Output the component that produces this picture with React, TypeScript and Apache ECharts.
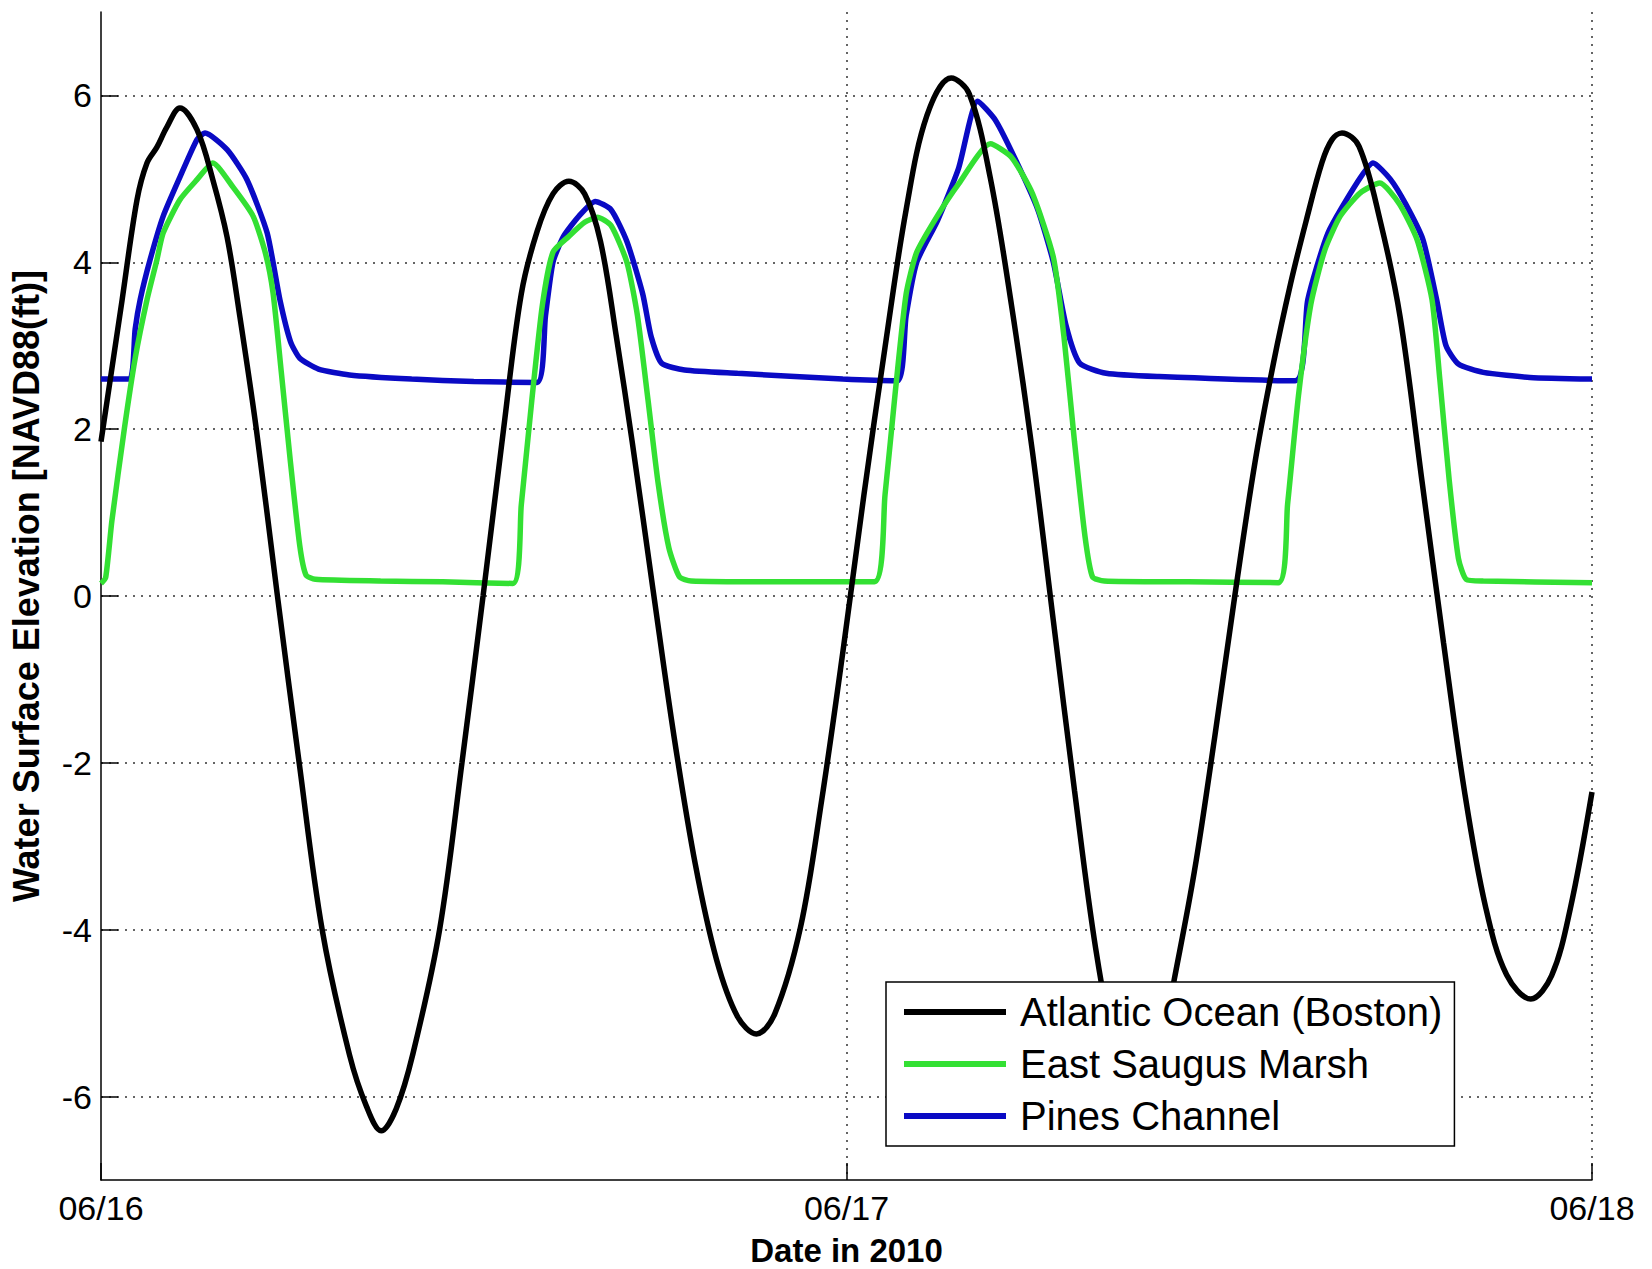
import React, { useEffect, useRef } from 'react';
import * as echarts from 'echarts';

// x in hours since 06/16 00:00 (2010), y in ft NAVD88
const xTickHours = [0, 24, 48];
const xTickLabels = ['06/16', '06/17', '06/18'];
const yTickValues = [-6, -4, -2, 0, 2, 4, 6];
const seriesNames = ['Atlantic Ocean (Boston)', 'East Saugus Marsh', 'Pines Channel'];
const seriesColors = ['#000000', '#33e033', '#0a0ac4'];

const atlanticOcean: [number, number][] = [
  [0, 1.85], [0.68, 3.55], [1.16, 4.75], [1.48, 5.19], [1.8, 5.38], [2.12, 5.62], [2.54, 5.85],
  [3.09, 5.59], [3.6, 4.99], [4.06, 4.3], [4.45, 3.4], [5.0, 2.0], [5.68, 0], [6.38, -2],
  [7.12, -4], [8.0, -5.5], [8.55, -6.12], [9.02, -6.41], [9.5, -6.15], [10.04, -5.49], [10.9, -4],
  [11.62, -2], [12.3, 0], [12.96, 2], [13.53, 3.62], [14.04, 4.37], [14.55, 4.82], [15.06, 4.97],
  [15.57, 4.82], [16.08, 4.25], [16.59, 3.11], [17.1, 1.85], [17.77, 0.08], [18.45, -1.69],
  [19.13, -3.21], [19.81, -4.35], [20.49, -5.04], [21.1, -5.25], [21.7, -5.0], [22.52, -3.97],
  [23.2, -2.45], [23.88, -0.68], [24.56, 1.21], [25.24, 2.98], [25.92, 4.63], [26.59, 5.76],
  [27.37, 6.21], [27.95, 6.02], [28.63, 5.01], [29.31, 3.49], [29.99, 1.72], [30.66, -0.3],
  [31.34, -2.33], [32.02, -4.22], [32.7, -5.55], [33.35, -6.2], [33.95, -5.75], [34.55, -4.6],
  [35.2, -3.3], [35.85, -1.7], [36.5, 0.0], [37.15, 1.6], [37.75, 2.8], [38.3, 3.75],
  [38.8, 4.5], [39.31, 5.2], [39.63, 5.47], [39.95, 5.55], [40.5, 5.39], [41.18, 4.5],
  [41.82, 3.35], [42.54, 1.34], [43.22, -0.56], [43.89, -2.33], [44.57, -3.72], [45.25, -4.54],
  [46.03, -4.83], [46.7, -4.55], [47.3, -3.75], [48, -2.35],
];

const eastSaugusMarsh: [number, number][] = [
  [0, 0.15], [0.15, 0.22], [0.35, 0.9], [0.75, 2.0], [1.1, 2.85], [1.48, 3.55], [1.8, 4.03],
  [2.0, 4.35], [2.54, 4.75], [3.09, 4.99], [3.6, 5.19], [4.25, 4.9], [4.9, 4.55], [5.3, 4.1],
  [5.54, 3.63], [5.8, 2.7], [6.1, 1.6], [6.4, 0.6], [6.6, 0.25], [6.9, 0.2], [9, 0.18], [11, 0.17],
  [13.26, 0.15], [13.53, 1.09], [13.87, 2.35], [14.21, 3.49], [14.55, 4.12], [15.06, 4.31],
  [15.57, 4.48], [15.98, 4.54], [16.42, 4.44], [16.93, 4.0], [17.27, 3.36], [17.61, 2.35],
  [17.94, 1.34], [18.28, 0.58], [18.62, 0.23], [19, 0.18], [22, 0.17], [24.9, 0.17], [25.24, 1.21],
  [25.58, 2.48], [25.92, 3.62], [26.26, 4.12], [26.93, 4.56], [27.61, 4.94], [28.63, 5.42],
  [29.31, 5.26], [29.99, 4.82], [30.66, 4.06], [31.0, 3.11], [31.34, 1.85], [31.68, 0.71],
  [31.92, 0.23], [32.3, 0.18], [35, 0.17], [37.9, 0.16], [38.2, 1.1], [38.55, 2.4], [38.95, 3.5],
  [39.4, 4.15], [39.89, 4.55], [40.53, 4.83], [41.17, 4.95], [41.8, 4.7], [42.37, 4.27],
  [42.85, 3.55], [43.1, 2.6], [43.4, 1.4], [43.7, 0.45], [43.95, 0.2], [44.5, 0.18], [48, 0.16],
];

const pinesChannel: [number, number][] = [
  [0, 2.6], [0.92, 2.6], [1.1, 3.2], [1.26, 3.55], [1.58, 4.03], [2.0, 4.55], [2.54, 5.02],
  [3.09, 5.47], [3.35, 5.55], [4.06, 5.35], [4.7, 4.99], [5.35, 4.35], [5.76, 3.55], [6.1, 3.05],
  [6.4, 2.85], [7.0, 2.72], [8, 2.65], [10, 2.6], [12, 2.57], [14.04, 2.56], [14.31, 3.36],
  [14.55, 4.0], [14.89, 4.31], [15.4, 4.56], [15.91, 4.73], [16.42, 4.63], [16.93, 4.25],
  [17.44, 3.62], [17.71, 3.11], [18.05, 2.79], [18.79, 2.71], [20.49, 2.67], [23.88, 2.6],
  [25.64, 2.58], [25.92, 3.36], [26.26, 4.0], [26.93, 4.5], [27.61, 5.13], [28.22, 5.93],
  [28.8, 5.7], [29.48, 5.2], [30.16, 4.63], [30.66, 4.0], [31.07, 3.24], [31.51, 2.79],
  [32.36, 2.67], [34.06, 2.63], [38.45, 2.58], [38.85, 3.55], [39.5, 4.35], [40.43, 4.95],
  [40.95, 5.19], [41.5, 5.0], [42.0, 4.7], [42.56, 4.27], [43.0, 3.55], [43.3, 3.0], [43.7, 2.78],
  [44.5, 2.68], [46, 2.62], [48, 2.6],
];

const FONT = 'Arial, "Liberation Sans", Helvetica, sans-serif';

export default function App() {
  const ref = useRef<HTMLDivElement>(null);
  useEffect(() => {
    const chart = echarts.init(ref.current!, null, { renderer: 'svg' });
    const axisLineStyle = { color: '#000', width: 1.5 };
    const dotted = { type: [2, 6] as any, color: '#333', width: 1.5 };
    const mk = (i: number, data: [number, number][], smooth: number) => ({
      name: seriesNames[i],
      type: 'line',
      data,
      color: seriesColors[i],
      showSymbol: false,
      symbol: 'none',
      smooth,
      lineStyle: { width: 5.5, color: seriesColors[i] },
      emphasis: { disabled: true },
    });
    chart.setOption({
      animation: false,
      backgroundColor: '#fff',
      textStyle: { fontFamily: FONT },
      grid: {
        left: 101,
        right: 60,
        top: 12,
        bottom: 89,
        containLabel: false,
        outerBoundsMode: 'none',
      },
      legend: {
        data: seriesNames,
        orient: 'vertical',
        left: 886,
        top: 982,
        padding: [10, 12, 10, 18],
        itemWidth: 102,
        itemHeight: 6,
        itemGap: 12,
        icon: 'rect',
        selectedMode: false,
        borderColor: '#000',
        borderWidth: 1.5,
        backgroundColor: '#fff',
        textStyle: { fontSize: 40, lineHeight: 40, color: '#000', fontFamily: FONT, padding: [0, 0, 0, 9] },
      },
      xAxis: {
        type: 'value',
        min: 0,
        max: 48,
        interval: 24,
        name: 'Date in 2010',
        nameLocation: 'middle',
        nameGap: 55,
        nameTextStyle: { fontWeight: 'bold', fontSize: 33, lineHeight: 30, color: '#000', fontFamily: FONT },
        axisLine: { show: true, onZero: false, lineStyle: axisLineStyle },
        axisTick: { show: true, inside: true, length: 17, lineStyle: axisLineStyle },
        axisLabel: {
          fontSize: 34,
          color: '#000',
          margin: 11,
          fontFamily: FONT,
          formatter: (v: number) => {
            const k = xTickHours.indexOf(v);
            return k >= 0 ? xTickLabels[k] : '';
          },
        },
        splitLine: { show: true, showMinLine: false, lineStyle: dotted },
      },
      yAxis: {
        type: 'value',
        min: -7,
        max: 7,
        interval: 1,
        name: 'Water Surface Elevation [NAVD88(ft)]',
        nameLocation: 'middle',
        nameRotate: 90,
        nameGap: 57,
        nameTextStyle: {
          fontWeight: 'bold',
          fontSize: 36,
          color: '#000',
          fontFamily: FONT,
          padding: [0, 0, 0, 20],
        },
        axisLine: { show: true, onZero: false, lineStyle: axisLineStyle },
        axisTick: { show: true, inside: true, length: 17, lineStyle: axisLineStyle, customValues: yTickValues },
        axisLabel: { fontSize: 34, color: '#000', margin: 9, fontFamily: FONT, customValues: yTickValues },
        splitLine: { show: true, lineStyle: dotted },
      },
      series: [
        mk(2, pinesChannel, 0.2),
        mk(1, eastSaugusMarsh, 0.2),
        mk(0, atlanticOcean, 0.35),
      ],
    });
    return () => chart.dispose();
  }, []);
  return (
    <div
      ref={ref}
      style={{ position: 'fixed', left: 0, top: 0, width: 1652, height: 1269, background: '#fff' }}
    />
  );
}
